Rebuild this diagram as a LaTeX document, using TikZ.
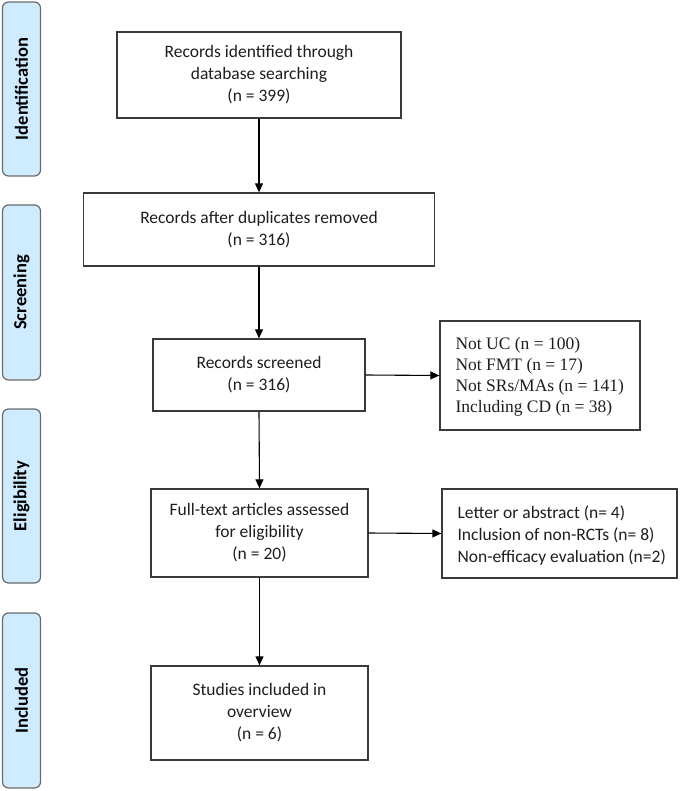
\documentclass[tikz,border=0pt]{standalone}
\usepackage{fontspec}
\setmainfont{Carlito}
\newfontfamily\serifx{Liberation Serif}
\usetikzlibrary{arrows.meta}
\definecolor{labfill}{HTML}{CFEBFF}
\definecolor{labdraw}{HTML}{6A6A6A}
\definecolor{boxdraw}{HTML}{3A3A3A}
\definecolor{txt}{HTML}{1E1E1E}
\begin{document}
\begin{tikzpicture}[x=1pt,y=-1pt,
  mainbox/.style={draw=boxdraw,line width=1.3pt,fill=white,inner sep=0pt,align=center,text=txt,
    font=\fontsize{17.5}{22}\selectfont},
  sidebox/.style={draw=boxdraw,line width=1.3pt,fill=white,inner sep=0pt,text=txt},
  phase/.style={draw=labdraw,line width=1.2pt,fill=labfill,rounded corners=6pt,inner sep=0pt,
    minimum height=38pt,rotate=90,font=\fontsize{18.5}{22}\selectfont\bfseries,text=black},
  flow/.style={draw=black,line width=1.1pt,-{Triangle[length=9pt,width=8pt]}}]
\useasboundingbox (0,0) rectangle (685,791);
% phase labels
\node[phase,minimum width=174pt] (p1) at (21.5,89) {Identification};
\node[phase,minimum width=175pt] (p2) at (21.5,292.5) {Screening};
\node[phase,minimum width=174pt] (p3) at (21.5,496) {Eligibility};
\node[phase,minimum width=175pt] (p4) at (21.5,700.5) {Included};
% main boxes
\node[mainbox,minimum width=284pt,minimum height=86pt] (b1) at (259,75)
  {Records identified through\\database searching\\(n = 399)};
\node[mainbox,minimum width=351pt,minimum height=73pt] (b2) at (259,229.5)
  {Records after duplicates removed\\(n = 316)};
\node[mainbox,minimum width=212pt,minimum height=72pt] (b3) at (259,375)
  {Records screened\\(n = 316)};
\node[mainbox,minimum width=217pt,minimum height=88pt] (b4) at (259.5,533)
  {Full-text articles assessed\\for eligibility\\(n = 20)};
\node[mainbox,minimum width=217pt,minimum height=94pt] (b5) at (259.5,713)
  {Studies included in\\overview\\(n = 6)};
% side boxes
\node[sidebox,minimum width=200pt,minimum height=109pt] (s1) at (540,375.5) {};
\node[anchor=west,align=left,text=txt,font=\serifx\fontsize{17.5}{21}\selectfont] (t1) at (452,377)
  {Not UC (n = 100)\\Not FMT (n = 17)\\Not SRs/MAs (n = 141)\\Including CD (n = 38)};
\node[sidebox,minimum width=235pt,minimum height=89pt] (s2) at (559.5,533.5) {};
\node[anchor=west,align=left,text=txt,font=\fontsize{17.5}{22}\selectfont] (t2) at (454,536)
  {Letter or abstract (n= 4)\\Inclusion of non-RCTs (n= 8)\\Non-efficacy evaluation (n=2)};
% connectors
\draw[flow] (b1.south) -- (b2.north);
\draw[flow] (b2.south) -- (b3.north);
\draw[flow] (b3.south) -- (b4.north);
\draw[flow] (b4.south) -- (b5.north);
\draw[flow] (b3.east) -- (s1.west);
\draw[flow] (b4.east) -- (s2.west);
\end{tikzpicture}
\end{document}
